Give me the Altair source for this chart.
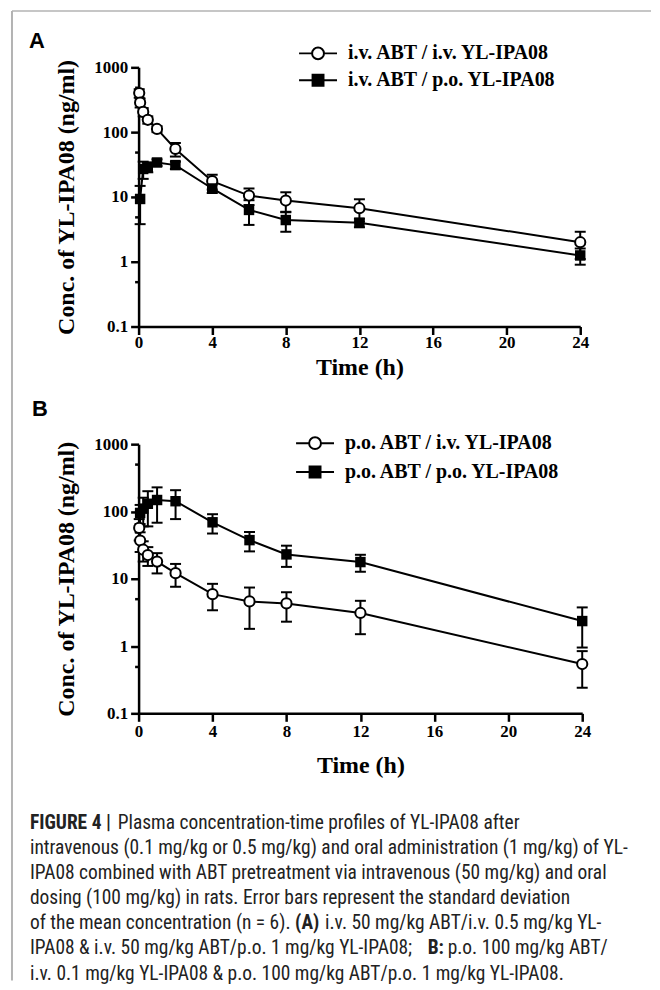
import altair as alt
import pandas as pd

# ---------------- data ----------------
# Panel A : i.v. ABT pretreatment
tA_iv = [0.033, 0.083, 0.25, 0.5, 1, 2, 4, 6, 8, 12, 24]
cA_iv = [400, 285, 205, 155, 112, 55, 17.5, 10.5, 8.8, 6.7, 2.0]
sA_iv = [60, 45, 30, 20, 12, 13, 4.5, 3.0, 3.0, 2.5, 0.9]
tA_po = [0.083, 0.25, 0.5, 1, 2, 4, 6, 8, 12, 24]
cA_po = [9.3, 27, 29, 34, 31, 13.5, 6.3, 4.4, 4.0, 1.25]
sA_po = [5.5, 8, 5, 4, 4, 2.0, 2.6, 1.5, 0.6, 0.35]
namesA = ["i.v. ABT / i.v. YL-IPA08", "i.v. ABT / p.o. YL-IPA08"]

# Panel B : p.o. ABT pretreatment
tB_iv = [0.033, 0.083, 0.25, 0.5, 1, 2, 4, 6, 8, 12, 24]
cB_iv = [57, 37, 27, 22.5, 18, 12.1, 5.9, 4.6, 4.3, 3.1, 0.54]
sB_iv = [20, 12, 9, 7, 6, 4.5, 2.5, 2.8, 2.0, 1.6, 0.3]
tB_po = [0.083, 0.25, 0.5, 1, 2, 4, 6, 8, 12, 24]
cB_po = [95, 110, 130, 148, 142, 69, 37.5, 23, 17.7, 2.35]
sB_po = [30, 50, 70, 80, 65, 22, 12, 8, 5, 1.4]
namesB = ["p.o. ABT / i.v. YL-IPA08", "p.o. ABT / p.o. YL-IPA08"]

x_ticks = list(range(0, 25, 2))
y_ticks = [0.1, 0.5, 1, 5, 10, 50, 100, 500, 1000]

caption = [
    (0, "FIGURE 4 |", "bold", 0),
    (0, "Plasma concentration-time profiles of YL-IPA08 after", "normal", 1),
    (1, "intravenous (0.1 mg/kg or 0.5 mg/kg) and oral administration (1 mg/kg) of YL-", "normal", 0),
    (2, "IPA08 combined with ABT pretreatment via intravenous (50 mg/kg) and oral", "normal", 0),
    (3, "dosing (100 mg/kg) in rats. Error bars represent the standard deviation", "normal", 0),
    (4, "of the mean concentration (n = 6).", "normal", 0),
    (4, "(A)", "bold", 2),
    (4, "i.v. 50 mg/kg ABT/i.v. 0.5 mg/kg YL-", "normal", 3),
    (5, "IPA08 & i.v. 50 mg/kg ABT/p.o. 1 mg/kg YL-IPA08;", "normal", 0),
    (5, "B:", "bold", 4),
    (5, "p.o. 100 mg/kg ABT/", "normal", 5),
    (6, "i.v. 0.1 mg/kg YL-IPA08 & p.o. 100 mg/kg ABT/p.o. 1 mg/kg YL-IPA08.", "normal", 0),
]
# left edges (px, relative to plot origin) of caption segments
seg_x = [-109, -21, 157, 187, 290, 310]

SERIF = "Liberation Serif"
CAPFONT = "Liberation Sans Narrow, Roboto Condensed, Arial Narrow, Liberation Sans"
CIRC_PATH = "M-1.6,0L-0.5,0M0.5,0L1.6,0M0.5,0A0.5,0.5,0,1,1,-0.5,0A0.5,0.5,0,1,1,0.5,0Z"
SQ_PATH = "M-1.6,0L1.6,0M-0.46,-0.46L0.46,-0.46L0.46,0.46L-0.46,0.46Z"
SYM_SIZE = 566


def frame(t_iv, c_iv, s_iv, t_po, c_po, s_po, names):
    rows = []
    for t, c, s in zip(t_iv, c_iv, s_iv):
        rows.append(dict(series=names[0], t=t, c=c, lo=c - s, hi=c + s))
    for t, c, s in zip(t_po, c_po, s_po):
        rows.append(dict(series=names[1], t=t, c=c, lo=c - s, hi=c + s))
    return pd.DataFrame(rows)


def panel(df, names, letter, width, height, leg_x, leg_y, row_pad, let_x, let_y,
          x_lab_pad, x_title_pad, extra=None):
    xaxis = alt.Axis(
        values=x_ticks,
        labelExpr="datum.value % 4 == 0 ? datum.label : ''",
        tickSize={"condition": {"test": "datum.value % 4 != 0", "value": 4}, "value": 8},
        title="Time (h)",
        titlePadding=x_title_pad,
        labelPadding=x_lab_pad,
    )
    yaxis = alt.Axis(
        values=y_ticks,
        labelExpr="indexof([0.1, 1, 10, 100, 1000], datum.value) >= 0 ? '' + datum.value : ''",
        tickSize={"condition": {"test": "indexof([0.5, 5, 50, 500], datum.value) >= 0", "value": 4}, "value": 8},
        title="Conc. of YL-IPA08 (ng/ml)",
        titlePadding=15,
        labelPadding=3,
    )
    X = alt.X("t:Q", scale=alt.Scale(domain=[0, 24], nice=False), axis=xaxis)
    Y = alt.Y("c:Q", scale=alt.Scale(type="log", domain=[0.1, 1000], nice=False), axis=yaxis)
    base = alt.Chart(df)

    line = base.mark_line(color="black", strokeWidth=2).encode(x=X, y=Y, detail="series:N", order="t:Q")
    err = base.mark_rule(color="black", strokeWidth=2).encode(x="t:Q", y="lo:Q", y2="hi:Q")
    cap_lo = base.mark_tick(orient="horizontal", size=11, thickness=2, color="black", opacity=1).encode(x="t:Q", y="lo:Q")
    cap_hi = base.mark_tick(orient="horizontal", size=11, thickness=2, color="black", opacity=1).encode(x="t:Q", y="hi:Q")
    circ = alt.Chart(df[df.series == names[0]]).mark_point(
        shape="circle", size=105, filled=True, fill="white", stroke="black", strokeWidth=2, opacity=1
    ).encode(x="t:Q", y="c:Q")
    sq = alt.Chart(df[df.series == names[1]]).mark_square(
        size=110, color="black", opacity=1
    ).encode(x="t:Q", y="c:Q")

    leg = alt.Legend(
        title=None, orient="none", legendX=leg_x, legendY=leg_y,
        labelFont=SERIF, labelFontSize=20, labelFontWeight="bold", labelColor="black",
        symbolSize=SYM_SIZE, symbolStrokeWidth=2, symbolOpacity=1,
        labelOffset=17, rowPadding=row_pad, padding=0, labelLimit=400,
    )
    legend_layer = base.mark_point(opacity=0, filled=False, size=SYM_SIZE, strokeWidth=2).encode(
        x="t:Q", y="c:Q",
        shape=alt.Shape("series:N", scale=alt.Scale(domain=names, range=[CIRC_PATH, SQ_PATH]), legend=leg),
        fill=alt.Fill("series:N", scale=alt.Scale(domain=names, range=["white", "black"]), legend=leg),
        stroke=alt.Stroke("series:N", scale=alt.Scale(domain=names, range=["black", "black"]), legend=leg),
    )
    lab = alt.Chart(pd.DataFrame({"label": [letter]})).mark_text(
        font="Liberation Sans", fontWeight="bold", fontSize=22, color="black", align="center", baseline="middle"
    ).encode(text="label:N", x=alt.value(let_x), y=alt.value(let_y))

    layers = [line, err, cap_lo, cap_hi, circ, sq, legend_layer, lab]
    if extra:
        layers += extra
    return alt.layer(*layers).properties(width=width, height=height)


one = pd.DataFrame({"k": [0]})
frame_lines = [
    alt.Chart(one).mark_rule(color="#b3b3b3", strokeWidth=1.5).encode(
        x=alt.value(-127), x2=alt.value(514), y=alt.value(-56.5)),
    alt.Chart(one).mark_rule(color="#b3b3b3", strokeWidth=2).encode(
        x=alt.value(-127), y=alt.value(-56.5), y2=alt.value(916)),
    alt.Chart(one).mark_rule(color="white", strokeWidth=1).encode(
        x=alt.value(-130.5), y=alt.value(0), y2=alt.value(5)),
]

dfA = frame(tA_iv, cA_iv, sA_iv, tA_po, cA_po, sA_po, namesA)
dfB = frame(tB_iv, cB_iv, sB_iv, tB_po, cB_po, sB_po, namesB)

pA = panel(dfA, namesA, "A", 443, 260, 167, -27, 4, -102, -26, 0, 5, extra=frame_lines)
pB = panel(dfB, namesB, "B", 445, 270, 164, -14, 6, -99, -35, 2, 14)

cap_df = pd.DataFrame(
    [dict(line=l, text=t, weight=w, x=seg_x[k]) for l, t, w, k in caption]
)
capY = alt.Y("line:Q", scale=alt.Scale(domain=[0, 6], range=[-8, 143]), axis=None)
capX = alt.X("x:Q", scale=None, axis=None)
cap_norm = alt.Chart(cap_df[cap_df.weight == "normal"]).mark_text(
    font=CAPFONT, fontSize=19.5, color="#222222", align="left", baseline="middle"
).encode(x=capX, y=capY, text="text:N")
cap_bold = alt.Chart(cap_df[cap_df.weight == "bold"]).mark_text(
    font=CAPFONT, fontSize=19.5, fontWeight="bold", color="#222222", align="left", baseline="middle"
).encode(x=capX, y=capY, text="text:N")
pC = alt.layer(cap_norm, cap_bold).properties(width=443, height=150)

chart = alt.vconcat(pA, pB, pC, spacing=118, bounds="flush").resolve_scale(
    x="independent", y="independent", shape="independent", fill="independent", stroke="independent"
).properties(padding=0).configure_view(stroke=None).configure_axis(
    domainColor="black", domainWidth=2.5, tickColor="black", tickWidth=2.5,
    labelColor="black", labelFont=SERIF, labelFontWeight="bold", labelFontSize=17,
    titleColor="black", titleFont=SERIF, titleFontWeight="bold", titleFontSize=24,
    grid=False, labelOverlap=False, labelFlush=False, labelBound=False,
)

chart.save("out.html", embed_options={"renderer": "svg", "actions": False})
